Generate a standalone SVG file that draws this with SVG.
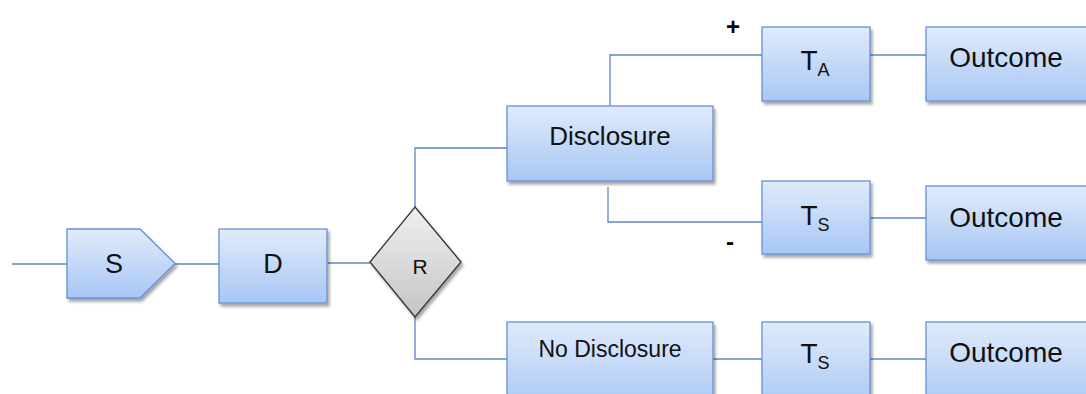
<svg xmlns="http://www.w3.org/2000/svg" width="1086" height="394" viewBox="0 0 1086 394">
  <defs>
    <linearGradient id="blueFill" x1="0" y1="0" x2="0" y2="1">
      <stop offset="0" stop-color="#e0ebfc"/>
      <stop offset="1" stop-color="#a8c6f4"/>
    </linearGradient>
    <linearGradient id="grayFill" x1="0" y1="0" x2="0" y2="1">
      <stop offset="0" stop-color="#f0f0f0"/>
      <stop offset="1" stop-color="#c4c4c4"/>
    </linearGradient>
    <filter id="shadow" x="-10%" y="-10%" width="130%" height="140%">
      <feGaussianBlur in="SourceAlpha" stdDeviation="1.8"/>
      <feOffset dx="2" dy="3" result="b"/>
      <feComponentTransfer><feFuncA type="linear" slope="0.35"/></feComponentTransfer>
      <feMerge><feMergeNode/><feMergeNode in="SourceGraphic"/></feMerge>
    </filter>
  </defs>
  <style>
    .box { fill: url(#blueFill); stroke: #6592d3; stroke-width: 1.3; filter: url(#shadow); }
    .dia { fill: url(#grayFill); stroke: #333333; stroke-width: 1.3; filter: url(#shadow); }
    .edge { fill: none; stroke: #5a88c8; stroke-width: 1.3; }
    .lbl { font-family: "Liberation Sans", Arial, sans-serif; fill: #111111; text-anchor: middle; }
    .sign { font-family: "Liberation Sans", Arial, sans-serif; font-weight: bold; fill: #000000; text-anchor: middle; }
  </style>

  <rect width="1086" height="394" fill="#ffffff"/>

  <g id="connectors">
    <path class="edge" d="M12,264 H67"/>
    <path class="edge" d="M175,264 H219"/>
    <path class="edge" d="M327,263 H370"/>
    <path class="edge" d="M415,207 V148 H507"/>
    <path class="edge" d="M415,317 V359 H507"/>
    <path class="edge" d="M610,106 V55 H762"/>
    <path class="edge" d="M608,187 V222 H762"/>
    <path class="edge" d="M870,55 H926"/>
    <path class="edge" d="M870,218 H926"/>
    <path class="edge" d="M713,359 H762"/>
    <path class="edge" d="M870,359 H926"/>
  </g>

  <g id="node-s">
    <polygon class="box" points="67,229 140,229 175,263.5 140,298 67,298"/>
    <text class="lbl" x="114" y="273" font-size="27">S</text>
  </g>

  <g id="node-d">
    <rect class="box" x="219" y="229" width="108" height="74"/>
    <text class="lbl" x="273" y="273" font-size="27">D</text>
  </g>

  <g id="node-r">
    <polygon class="dia" points="415,207 461,262 415,317 370,262"/>
    <text class="lbl" x="420" y="274" font-size="21">R</text>
  </g>

  <g id="node-disclosure">
    <rect class="box" x="507" y="106" width="206" height="75"/>
    <text class="lbl" x="610" y="145" font-size="26">Disclosure</text>
  </g>

  <g id="node-no-disclosure">
    <rect class="box" x="507" y="322" width="206" height="90"/>
    <text class="lbl" x="610" y="357" font-size="23">No Disclosure</text>
  </g>

  <g id="node-ta">
    <rect class="box" x="762" y="27" width="108" height="74"/>
    <text class="lbl" x="815" y="70" font-size="28">T<tspan font-size="18" dy="6">A</tspan></text>
  </g>

  <g id="node-ts-upper">
    <rect class="box" x="762" y="181" width="108" height="73"/>
    <text class="lbl" x="815" y="225" font-size="28">T<tspan font-size="18" dy="6">S</tspan></text>
  </g>

  <g id="node-ts-lower">
    <rect class="box" x="762" y="322" width="108" height="90"/>
    <text class="lbl" x="815" y="363" font-size="28">T<tspan font-size="18" dy="6">S</tspan></text>
  </g>

  <g id="node-outcome-top">
    <rect class="box" x="926" y="27" width="180" height="74"/>
    <text class="lbl" x="1006" y="67" font-size="28">Outcome</text>
  </g>

  <g id="node-outcome-mid">
    <rect class="box" x="926" y="186" width="180" height="74"/>
    <text class="lbl" x="1006" y="227" font-size="28">Outcome</text>
  </g>

  <g id="node-outcome-bottom">
    <rect class="box" x="926" y="322" width="180" height="90"/>
    <text class="lbl" x="1006" y="362" font-size="28">Outcome</text>
  </g>

  <g id="signs">
    <text class="sign" x="733" y="35" font-size="24">+</text>
    <text class="sign" x="730" y="250" font-size="24">-</text>
  </g>
</svg>
